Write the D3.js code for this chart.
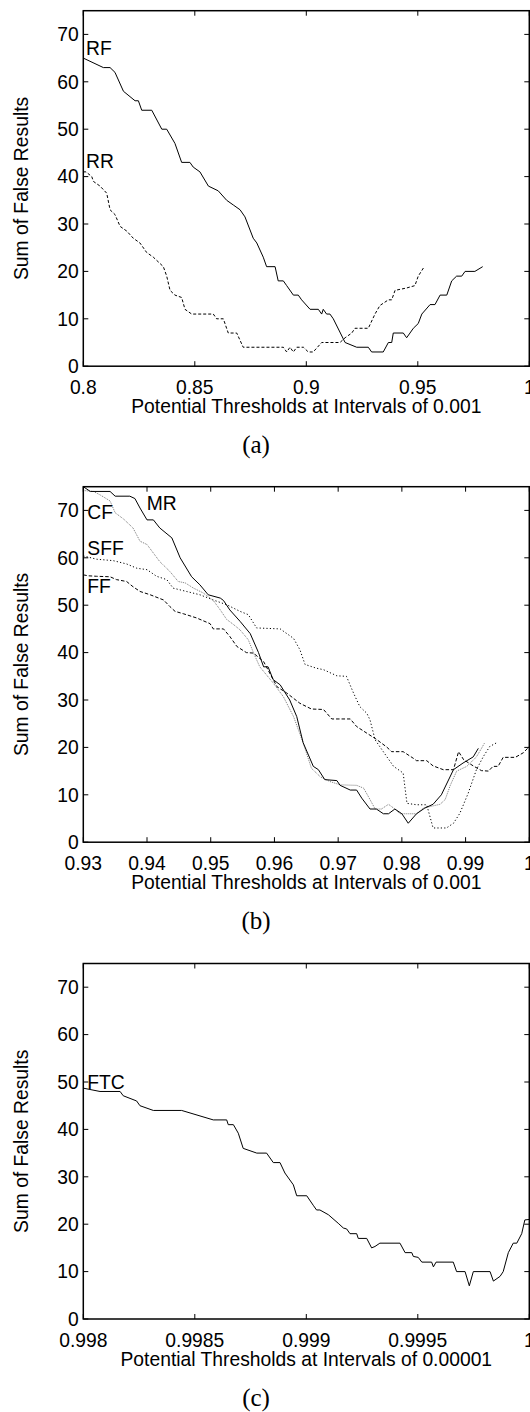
<!DOCTYPE html>
<html><head><meta charset="utf-8">
<script src="https://cdn.jsdelivr.net/npm/d3@7"></script>
<style>
body{margin:0;background:#fff;}
svg{display:block;}
text{font-family:"Liberation Sans",Arial,sans-serif;fill:#000;}
</style></head>
<body><svg id="c" width="530" height="1412"></svg>
<script>
// ---------- DATA ----------
const xTicksA = [0.8, 0.85, 0.9, 0.95, 1];
const xTickLabelsA = ["0.8", "0.85", "0.9", "0.95", "1"];
const xTicksB = [0.93, 0.94, 0.95, 0.96, 0.97, 0.98, 0.99, 1];
const xTickLabelsB = ["0.93", "0.94", "0.95", "0.96", "0.97", "0.98", "0.99", "1"];
const xTicksC = [0.998, 0.9985, 0.999, 0.9995, 1];
const xTickLabelsC = ["0.998", "0.9985", "0.999", "0.9995", "1"];
const yTicks = [0, 10, 20, 30, 40, 50, 60, 70];

const RF = [[0.8,65],[0.809,63],[0.812,63],[0.8142,62],[0.818,58],[0.8232,56],[0.8247,56],[0.8262,54],[0.8307,54],[0.8352,50],[0.8374,50],[0.8411,47],[0.8441,43],[0.8478,43],[0.8493,42],[0.8523,41],[0.8561,38],[0.8605,37],[0.8643,35],[0.8673,34],[0.8703,33],[0.8725,31.5],[0.8762,27],[0.8778,26],[0.8807,23],[0.8822,21],[0.886,21],[0.8874,18],[0.8897,18],[0.8912,17],[0.8942,15],[0.8964,15],[0.8979,14],[0.9017,12],[0.9054,12],[0.9069,11],[0.9076,12],[0.9091,11],[0.9106,11],[0.9121,10],[0.9174,5],[0.9226,4],[0.9278,4],[0.9293,3],[0.9345,3],[0.9368,5],[0.9383,5],[0.939,7],[0.9435,7],[0.945,6],[0.9465,7],[0.948,8],[0.9502,9],[0.9518,11],[0.9555,13],[0.9577,13],[0.96,15],[0.963,15],[0.9652,18],[0.9674,19],[0.9697,19],[0.9712,20],[0.9756,20],[0.9791,21]];
const RR = [[0.8,41],[0.8012,41],[0.8038,40],[0.8045,39],[0.8075,38],[0.8105,36.5],[0.812,33],[0.8142,32],[0.8165,29.5],[0.8195,28.5],[0.8224,27],[0.8254,26],[0.8284,24],[0.8314,23],[0.8359,21],[0.8374,19],[0.8389,16],[0.8411,15],[0.8441,14.5],[0.8456,12],[0.8486,11],[0.8583,11],[0.8598,10],[0.8628,10],[0.865,7],[0.8688,7],[0.8717,4],[0.8897,4],[0.8912,3],[0.8927,4],[0.8942,3],[0.8957,4],[0.8987,4],[0.9009,3],[0.9031,3],[0.9069,5],[0.9151,5],[0.9174,6],[0.9204,7],[0.9218,8],[0.9278,8],[0.9308,11],[0.933,12.8],[0.9368,14],[0.9383,14],[0.9398,16],[0.945,16.5],[0.9487,17],[0.9502,19],[0.9529,21]];

const MR = [[0.93,75],[0.9311,74],[0.9342,74],[0.935,73],[0.9373,73],[0.9381,72.5],[0.9389,70.5],[0.94,68],[0.941,68],[0.942,66.3],[0.9439,64.2],[0.9452,60],[0.947,56],[0.9483,54.3],[0.9496,52.2],[0.9515,51.5],[0.952,51],[0.953,49],[0.9546,46.6],[0.9562,44],[0.9575,40],[0.9583,37],[0.959,37],[0.9598,34.3],[0.9609,33.2],[0.9624,30],[0.9635,26.5],[0.9645,21],[0.9661,16],[0.9669,15.3],[0.9679,13.2],[0.9698,13],[0.9703,12],[0.9719,11],[0.9729,11],[0.9737,9.3],[0.975,7],[0.976,7],[0.9771,6],[0.9779,6],[0.9789,7],[0.98,6],[0.981,4],[0.9823,6],[0.9836,7.2],[0.9849,8],[0.9862,10],[0.9881,15.3],[0.9896,16.7],[0.9912,18],[0.992,19.8]];
const CF = [[0.93,74.2],[0.9316,74],[0.9326,73.3],[0.9342,72],[0.935,69.5],[0.9363,68.2],[0.9378,66.3],[0.9389,63.5],[0.94,62.8],[0.941,61],[0.942,59.2],[0.9436,57.1],[0.9449,55],[0.946,54.7],[0.9473,53.6],[0.9488,52.6],[0.9504,51],[0.9515,49],[0.9525,47],[0.9535,46],[0.9546,44.8],[0.9559,42.7],[0.9567,40],[0.9577,37],[0.9598,33.6],[0.9614,30.7],[0.963,26.5],[0.9645,21],[0.9658,15.6],[0.9672,13.8],[0.9687,12.8],[0.9703,12.1],[0.9729,12],[0.974,11.4],[0.975,9],[0.9758,7],[0.9768,7],[0.9779,8],[0.9789,7],[0.9797,6],[0.9823,6],[0.9834,7.2],[0.986,8],[0.9868,9],[0.9876,12],[0.9886,15],[0.9902,16],[0.9917,18],[0.9925,19.8],[0.993,21]];
const SFF = [[0.93,60.4],[0.9321,59.7],[0.9347,59.4],[0.9368,58.7],[0.9384,57.8],[0.94,57.5],[0.9415,56.1],[0.9431,55.4],[0.9441,53.6],[0.9462,52.9],[0.9483,52.2],[0.9504,51.1],[0.9525,50.1],[0.9546,48.7],[0.9559,48],[0.9572,45.2],[0.9609,45],[0.963,43],[0.964,40.6],[0.9648,37.5],[0.9666,36.7],[0.9677,36.4],[0.9698,35.1],[0.9713,35],[0.9724,31.5],[0.9734,28.6],[0.9745,27.2],[0.975,25.8],[0.9758,21.6],[0.9776,18.1],[0.9787,16],[0.9802,14.6],[0.9808,8.2],[0.9823,7.9],[0.9839,7.9],[0.9849,3],[0.987,3],[0.9881,4],[0.9891,6.1],[0.9904,10.3],[0.9917,15.3],[0.9928,18.1],[0.9938,20.2],[0.9949,21]];
const FF = [[0.93,56.4],[0.9308,56.2],[0.9321,56.1],[0.9342,56],[0.9352,55.4],[0.9368,55],[0.9378,53.9],[0.9389,52.9],[0.9405,52.2],[0.9426,51.1],[0.9436,49.7],[0.9444,48.7],[0.9457,48.2],[0.9478,47.3],[0.9499,46.1],[0.9504,45],[0.952,45],[0.953,43.4],[0.9541,41.3],[0.9556,40],[0.9567,39.9],[0.9583,38.1],[0.9604,32.8],[0.9619,31.5],[0.964,29.3],[0.9658,28.1],[0.9677,28],[0.969,26],[0.9719,26],[0.9729,24.4],[0.9745,23],[0.976,21.7],[0.9776,20.1],[0.9784,19.1],[0.9802,19.1],[0.9818,17.7],[0.9823,17.2],[0.9839,17.2],[0.9849,16.1],[0.9865,15.3],[0.9881,15.3],[0.9889,19.1],[0.9897,17.4],[0.9912,16.1],[0.9925,15.1],[0.9936,15],[0.9943,16],[0.9951,16],[0.9959,17.9],[0.9978,17.9],[0.9991,18.9],[1.0,20.2]];

const FTC = [[0.998,48.7],[0.998075,48],[0.998165,48],[0.998179,47.1],[0.998239,46],[0.998254,45],[0.998314,44],[0.998441,44],[0.998583,42],[0.998643,42],[0.99865,41],[0.998673,41],[0.998695,39.2],[0.998717,36],[0.998778,35],[0.998822,35],[0.998852,33],[0.998882,33],[0.998904,30.8],[0.998942,28.3],[0.998957,26],[0.999002,26],[0.999031,24],[0.999046,23],[0.999061,23],[0.999099,22],[0.999143,20.2],[0.999166,19.2],[0.999181,19],[0.999196,18],[0.999226,18],[0.999233,17],[0.999271,17],[0.999293,15],[0.999308,15.3],[0.99933,16],[0.99942,16],[0.999443,14],[0.999473,14],[0.99948,13.2],[0.999502,13],[0.999518,12],[0.999562,12],[0.99957,11],[0.999582,12],[0.999659,12],[0.999674,10],[0.999712,10],[0.999731,7],[0.999749,10],[0.999824,10],[0.999839,8],[0.999869,9],[0.999883,10],[0.999906,14],[0.999928,16],[0.999944,16],[0.999966,18],[0.99998,20.9],[1.0,21]];

// ---------- LAYOUT ----------
const svg = d3.select("#c");
const L = 83.3, R = 529.3, H = 355.5;
const FS = 19.3;

const panels = [
  {top: 10.7, domain: [0.8, 1], ticks: xTicksA, labels: xTickLabelsA, title: "Potential Thresholds at Intervals of 0.001", caption: "(a)",
   series: [
     {data: RF, color: "#000", dash: null},
     {data: RR, color: "#000", dash: "3,2"}
   ],
   names: [{t: "RF", x: 86, y: 55}, {t: "RR", x: 86, y: 168}]},
  {top: 486.7, domain: [0.93, 1], ticks: xTicksB, labels: xTickLabelsB, title: "Potential Thresholds at Intervals of 0.001", caption: "(b)",
   series: [
     {data: FF, color: "#000", dash: "3.5,2"},
     {data: SFF, color: "#000", dash: "1.2,2.2"},
     {data: CF, color: "#777", dash: "1,1"},
     {data: MR, color: "#000", dash: null}
   ],
   names: [{t: "MR", x: 146.7, y: 510}, {t: "CF", x: 87.3, y: 519}, {t: "SFF", x: 87.3, y: 555}, {t: "FF", x: 87.3, y: 593}]},
  {top: 963.5, domain: [0.998, 1], ticks: xTicksC, labels: xTickLabelsC, title: "Potential Thresholds at Intervals of 0.00001", caption: "(c)",
   series: [
     {data: FTC, color: "#000", dash: null}
   ],
   names: [{t: "FTC", x: 87.3, y: 1089}]}
];

panels.forEach((p, i) => {
  const bottom = p.top + H;
  const x = d3.scaleLinear().domain(p.domain).range([L, R]);
  const y = d3.scaleLinear().domain([0, 75]).range([bottom, p.top]);
  const g = svg.append("g");
  const clipId = "clip" + i;
  svg.append("clipPath").attr("id", clipId).append("rect")
    .attr("x", L).attr("y", p.top).attr("width", R - L).attr("height", H);

  // ticks (inward, mirrored)
  const tl = 5;
  p.ticks.forEach(t => {
    const xx = x(t);
    g.append("line").attr("x1", xx).attr("x2", xx).attr("y1", bottom).attr("y2", bottom - tl).attr("stroke", "#000").attr("stroke-width", 1);
    g.append("line").attr("x1", xx).attr("x2", xx).attr("y1", p.top).attr("y2", p.top + tl).attr("stroke", "#000").attr("stroke-width", 1);
  });
  yTicks.forEach(t => {
    const yy = y(t);
    g.append("line").attr("x1", L).attr("x2", L + tl).attr("y1", yy).attr("y2", yy).attr("stroke", "#000").attr("stroke-width", 1);
    g.append("line").attr("x1", R).attr("x2", R - tl).attr("y1", yy).attr("y2", yy).attr("stroke", "#000").attr("stroke-width", 1);
  });
  // tick labels
  p.ticks.forEach((t, k) => {
    g.append("text").attr("x", x(t)).attr("y", bottom + 27.5).attr("text-anchor", "middle")
      .attr("font-size", FS).text(p.labels[k]);
  });
  yTicks.forEach(t => {
    g.append("text").attr("x", L - 4.5).attr("y", y(t) + 6.8).attr("text-anchor", "end")
      .attr("font-size", FS).text(String(t));
  });
  // series
  const line = d3.line().x(d => x(d[0])).y(d => y(d[1]));
  p.series.forEach(s => {
    g.append("path").attr("d", line(s.data)).attr("fill", "none")
      .attr("stroke", s.color).attr("stroke-width", 1)
      .attr("stroke-dasharray", s.dash)
      .attr("clip-path", "url(#" + clipId + ")");
  });
  // frame
  g.append("rect").attr("x", L).attr("y", p.top).attr("width", R - L).attr("height", H)
    .attr("fill", "none").attr("stroke", "#000").attr("stroke-width", 1.5);
  // names
  p.names.forEach(n => {
    g.append("text").attr("x", n.x).attr("y", n.y).attr("font-size", FS).text(n.t);
  });
  // axis titles
  g.append("text").attr("x", (L + R) / 2).attr("y", bottom + 46.7).attr("text-anchor", "middle")
    .attr("font-size", FS).text(p.title);
  g.append("text").attr("transform", `translate(27.5,${(p.top + bottom) / 2}) rotate(-90)`)
    .attr("text-anchor", "middle").attr("font-size", FS).text("Sum of False Results");
  // caption
  g.append("text").attr("x", 256).attr("y", bottom + 87).attr("text-anchor", "middle")
    .attr("font-size", 25).style("font-family", "'Liberation Serif','DejaVu Serif',serif").text(p.caption);
});
</script></body></html>
